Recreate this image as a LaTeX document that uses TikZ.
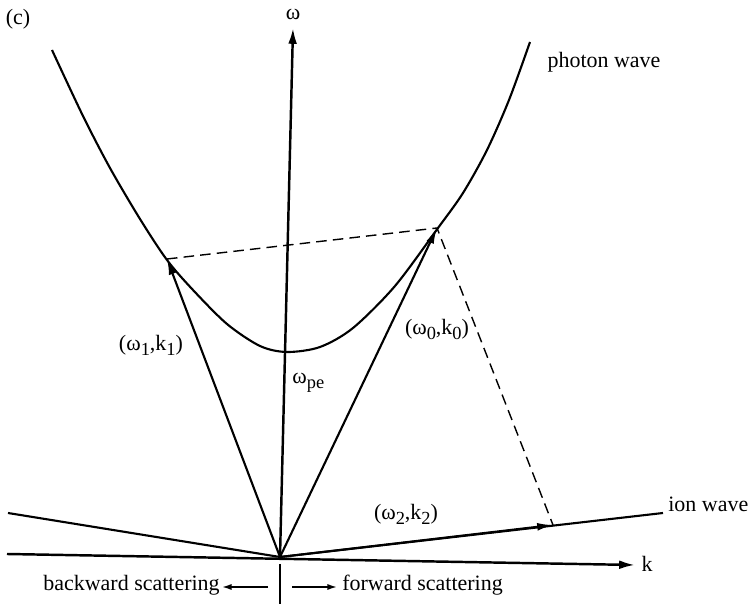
\documentclass[tikz,border=0pt]{standalone}
\usepackage{fontspec}
\setmainfont{Liberation Serif}
\usetikzlibrary{arrows.meta}
\newcommand{\lo}[1]{\raisebox{-0.45ex}{\fontsize{10.5}{12}\selectfont #1}}

\begin{document}
\begin{tikzpicture}[x=0.02cm,y=-0.02cm,
  every node/.style={font=\fontsize{12.5}{15}\selectfont,inner sep=0pt},
  axis/.style={line width=1.4pt},
  curve/.style={line width=1.2pt},
  vec/.style={line width=1.2pt,-{Latex[length=9pt,width=4.5pt]}},
  small/.style={line width=0.9pt,-{Latex[length=5.5pt,width=3.5pt]}},
  guide/.style={line width=0.8pt,dash pattern=on 6pt off 3.5pt}]

\useasboundingbox (0,0) rectangle (755,604);

% points
\coordinate (O) at (280,557);
\coordinate (wtop) at (293,28);
\coordinate (kleft) at (7,554);
\coordinate (kright) at (635,565);
\coordinate (ionleft) at (8,513);
\coordinate (ionright) at (663,513);
\coordinate (W0) at (437,228);
\coordinate (W1) at (167,259);
\coordinate (W2) at (553,525);
\coordinate (ticktop) at (280,564);
\coordinate (tickbot) at (280,604);

% axes
\draw[axis,-{Latex[length=9pt,width=5pt]}] (O) -- (wtop);
\draw[axis,-{Latex[length=9pt,width=5pt]}] (kleft) -- (kright);
\draw[axis] (ticktop) -- (tickbot);
\node[anchor=base] (wlab) at (293,20) {ω};
\node[anchor=base] (klab) at (647,572) {k};
\node[anchor=base] (c) at (18,25) {(c)};

% photon wave
\draw[curve] plot[smooth] coordinates {(52,50) (83,116) (110,168) (140,219)
  (167,260) (193,290) (227,324) (260,346) (287,352) (320,347) (353,328)
  (395,286) (438,228) (463,193) (487,150) (509,100) (530,42)};
\node[anchor=base] (photon) at (604,68) {photon wave};

% ion wave
\draw[curve] (ionleft) -- (O) -- (ionright);
\node[anchor=base west] (ion) at (668,512) {ion wave};

% vectors
\draw[vec] (O) -- (W1);
\draw[vec] (O) -- (W0);
\draw[vec] (O) -- (W2);
\draw[guide] (W1) -- (W0) -- (W2);
\node[anchor=base] (l1) at (151,351) {(ω\lo{1},k\lo{1})};
\node[anchor=base] (l0) at (437,335) {(ω\lo{0},k\lo{0})};
\node[anchor=base] (l2) at (406,520) {(ω\lo{2},k\lo{2})};
\node[anchor=base west] (lpe) at (292,384) {ω\lo{pe}};

% scattering
\coordinate (bstart) at (268,587);
\coordinate (bend) at (222,587);
\coordinate (fstart) at (292,587);
\coordinate (fend) at (337,587);
\draw[small] (bstart) -- (bend);
\draw[small] (fstart) -- (fend);
\node[anchor=base east] (back) at (220,591) {backward scattering};
\node[anchor=base west] (fwd) at (342,591) {forward scattering};

\end{tikzpicture}
\end{document}
